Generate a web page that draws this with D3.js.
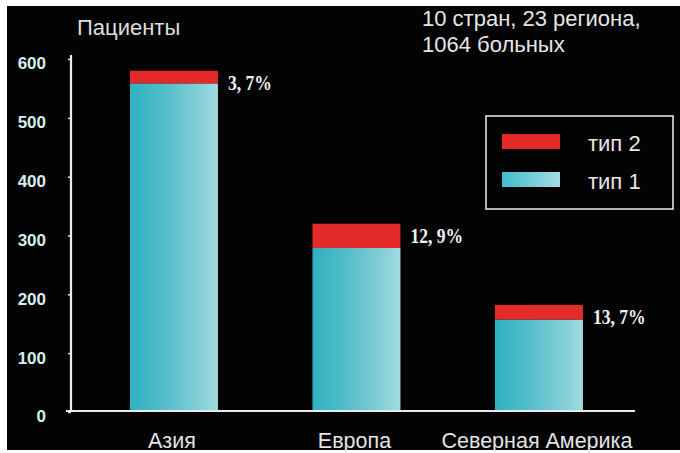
<!DOCTYPE html>
<html><head><meta charset="utf-8">
<script src="https://cdn.jsdelivr.net/npm/d3@7"></script>
<style>html,body{margin:0;padding:0;background:#fff;overflow:hidden}svg{display:block}</style>
</head><body>
<script>
// Patients per region and share of type 2 (percent)
const categories = ["Азия", "Европа", "Северная Америка"];
const totalPatients = [580, 320, 182];
const type2Share = [3.7, 12.9, 13.7];
const yTicks = [0, 100, 200, 300, 400, 500, 600];
const seriesNames = ["тип 2", "тип 1"];
const yTitle = "Пациенты";
const noteLines = ["10 стран, 23 региона,", "1064 больных"];

const type2 = totalPatients.map((t, i) => t * type2Share[i] / 100);
const type1 = totalPatients.map((t, i) => t - type2[i]);
const rows = categories.map((c, i) => ({cat: c, t1: type1[i], t2: type2[i]}));
const stacked = d3.stack().keys(["t1", "t2"])(rows);

const W = 680, H = 453;
const svg = d3.select("body").append("svg").attr("width", W).attr("height", H);

const defs = svg.append("defs");
const grad = defs.append("linearGradient").attr("id", "teal").attr("x1", "0%").attr("x2", "100%");
[["0%", "#2fb1c1"], ["35%", "#4fbcc9"], ["80%", "#86cfd7"], ["100%", "#a2dbe0"]]
  .forEach(([o, c]) => grad.append("stop").attr("offset", o).attr("stop-color", c));

// black panel inside a thin white margin
svg.append("rect").attr("x", 7).attr("y", 6).attr("width", W - 7).attr("height", 444).attr("fill", "#030303");

const y = d3.scaleLinear().domain([0, 600]).range([412, 59]);
const x = d3.scaleBand().domain(categories).range([82.7, 630.2]).paddingInner(0.518).paddingOuter(0.259);
const colors = {t1: "url(#teal)", t2: "#e52a2a"};

// bars
svg.append("g").selectAll("g").data(stacked).join("g")
  .attr("fill", d => colors[d.key])
  .selectAll("rect").data(d => d).join("rect")
  .attr("x", d => x(d.data.cat))
  .attr("width", x.bandwidth())
  .attr("y", d => y(d[1]))
  .attr("height", d => y(d[0]) - y(d[1]));

// y axis
const yAxis = d3.axisLeft(y).tickValues(yTicks).tickSize(3).tickPadding(22);
const gy = svg.append("g").attr("transform", "translate(71,0)").call(yAxis);
gy.select(".domain").remove();
gy.selectAll(".tick line").attr("stroke", "#cfe8e8").attr("stroke-width", 1.5);
gy.selectAll(".tick text")
  .attr("fill", "#d6eeee").attr("dy", "0.35em").attr("y", 4)
  .style("font", "bold 17px 'Liberation Sans', Arial, sans-serif");
svg.append("line").attr("x1", 71).attr("x2", 71).attr("y1", 55).attr("y2", 412)
  .attr("stroke", "#e6f2f2").attr("stroke-width", 2.2);

// x axis
const xAxis = d3.axisBottom(x).tickSize(0).tickPadding(22);
const gx = svg.append("g").attr("transform", "translate(-2,411)").call(xAxis);
gx.select(".domain").remove();
gx.selectAll(".tick text").attr("fill", "#e4e4e4")
  .style("font", "21.5px 'Liberation Sans', Arial, sans-serif");
svg.append("line").attr("x1", 66).attr("x2", 635).attr("y1", 411).attr("y2", 411)
  .attr("stroke", "#e6ecec").attr("stroke-width", 2.2);

// type 2 share labels
svg.append("g").selectAll("text").data(rows).join("text")
  .attr("transform", (d, i) => `translate(${x(d.cat) + x.bandwidth() + 10},${y(totalPatients[i]) + 19}) scale(0.8,1)`)
  .attr("fill", "#f2f2f2")
  .style("font", "bold 22px 'Liberation Serif', 'Times New Roman', serif")
  .text((d, i) => type2Share[i].toFixed(1).replace(".", ", ") + "%");

// titles
const sans = "22px 'Liberation Sans', Arial, sans-serif";
svg.append("text").attr("x", 77).attr("y", 35).attr("fill", "#dedede").style("font", sans).text(yTitle);
svg.append("g").selectAll("text").data(noteLines).join("text")
  .attr("x", 422).attr("y", (d, i) => 26 + i * 26)
  .attr("fill", "#e6e6e6").style("font", sans).text(d => d);

// legend
const leg = svg.append("g");
leg.append("rect").attr("x", 486).attr("y", 116).attr("width", 187).attr("height", 93)
  .attr("fill", "none").attr("stroke", "#d8e4e4").attr("stroke-width", 1.6);
const legGrad = defs.append("linearGradient").attr("id", "tealLeg").attr("x1", "0%").attr("x2", "100%");
[["0%", "#3cbfcc"], ["100%", "#a6dde1"]].forEach(([o, c]) => legGrad.append("stop").attr("offset", o).attr("stop-color", c));
const legFill = ["#e52a2a", "url(#tealLeg)"];
const li = leg.selectAll("g").data(seriesNames).join("g")
  .attr("transform", (d, i) => `translate(0,${i * 38})`);
li.append("rect").attr("x", 502).attr("y", 134).attr("width", 58).attr("height", 15)
  .attr("fill", (d, i) => legFill[i]);
li.append("text").attr("x", 588).attr("y", 151).attr("fill", "#e6e6e6").style("font", sans).text(d => d);
</script>
</body></html>
